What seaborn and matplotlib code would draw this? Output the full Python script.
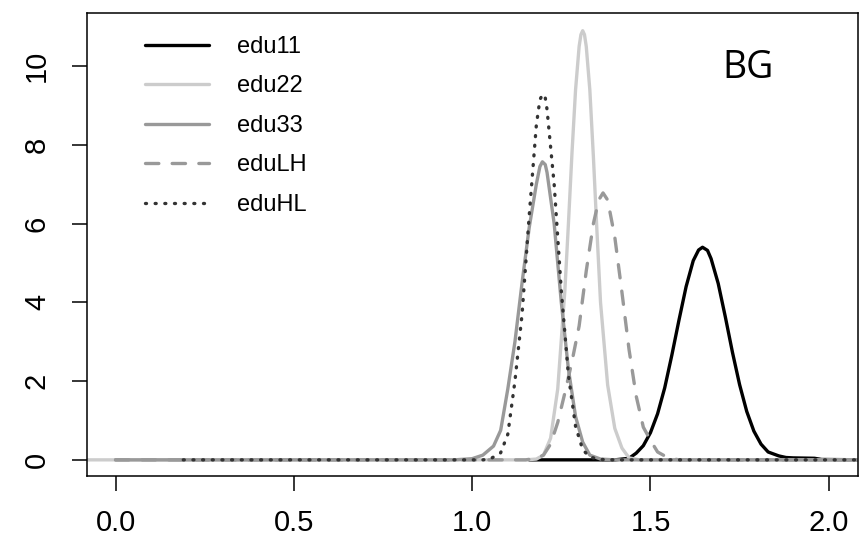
import pandas as pd
import matplotlib
matplotlib.use("Agg")
import matplotlib.pyplot as plt
import seaborn as sns

# === Density curves (x, density) ===
edu11_x = [1.16, 1.40, 1.44, 1.46, 1.48, 1.50, 1.52, 1.54, 1.56, 1.58, 1.60, 1.62, 1.635, 1.646,
           1.66, 1.67, 1.69, 1.71, 1.73, 1.75, 1.77, 1.79, 1.81, 1.83, 1.86, 1.88, 1.90, 1.96, 1.98, 2.12]
edu11_y = [0.0, 0.0, 0.04, 0.17, 0.36, 0.69, 1.17, 1.83, 2.66, 3.55, 4.40, 5.06, 5.33, 5.40,
           5.32, 5.11, 4.48, 3.63, 2.73, 1.91, 1.23, 0.73, 0.40, 0.20, 0.10, 0.06, 0.05, 0.04, 0.01, 0.0]

edu22_x = [-0.10, 1.15, 1.18, 1.20, 1.22, 1.24, 1.26, 1.27, 1.28, 1.29, 1.30, 1.305, 1.31,
           1.315, 1.32, 1.33, 1.34, 1.35, 1.36, 1.38, 1.40, 1.42, 1.44, 1.47, 2.12]
edu22_y = [0.0, 0.0, 0.02, 0.12, 0.55, 1.8, 4.3, 6.0, 7.8, 9.4, 10.5, 10.8, 10.9,
           10.8, 10.5, 9.4, 7.7, 5.8, 4.0, 1.9, 0.8, 0.3, 0.05, 0.0, 0.0]

edu33_x = [0.0, 0.95, 1.00, 1.03, 1.06, 1.08, 1.10, 1.12, 1.14, 1.16, 1.18, 1.19, 1.197,
           1.205, 1.21, 1.23, 1.25, 1.27, 1.29, 1.31, 1.33, 1.36, 1.40, 2.12]
edu33_y = [0.0, 0.0, 0.03, 0.12, 0.35, 0.75, 1.8, 3.0, 4.5, 5.9, 7.0, 7.45, 7.57,
           7.5, 7.3, 6.0, 4.0, 2.3, 1.1, 0.45, 0.12, 0.02, 0.0, 0.0]

eduLH_x = [0.0, 1.15, 1.18, 1.20, 1.22, 1.24, 1.26, 1.28, 1.30, 1.32, 1.34, 1.355, 1.367,
           1.38, 1.40, 1.42, 1.44, 1.46, 1.48, 1.50, 1.52, 1.55, 1.58, 2.12]
eduLH_y = [0.0, 0.0, 0.04, 0.12, 0.4, 0.95, 1.7, 2.5, 3.4, 4.8, 6.0, 6.6, 6.78,
           6.6, 5.66, 4.26, 2.8, 1.62, 0.83, 0.5, 0.2, 0.05, 0.0, 0.0]

eduHL_x = [0.19, 1.03, 1.05, 1.08, 1.10, 1.12, 1.14, 1.16, 1.18, 1.19, 1.198, 1.205, 1.21, 1.23,
           1.25, 1.27, 1.29, 1.31, 1.33, 1.36, 1.40, 2.12]
eduHL_y = [0.0, 0.0, 0.02, 0.18, 0.65, 2.0, 3.7, 6.2, 8.5, 9.15, 9.29, 9.2, 8.9, 7.0,
           4.3, 2.15, 0.85, 0.26, 0.07, 0.01, 0.0, 0.0]

labels = ["edu11", "edu22", "edu33", "eduLH", "eduHL"]
colors = ["#000000", "#CCCCCC", "#999999", "#999999", "#333333"]
styles = ["-", "-", "-", (0, (4.0, 4.0)), (0, (0.3, 2.6))]
xticks = [0.0, 0.5, 1.0, 1.5, 2.0]
yticks = [0, 2, 4, 6, 8, 10]

series = [(edu11_x, edu11_y), (edu22_x, edu22_y), (edu33_x, edu33_y),
          (eduLH_x, eduLH_y), (eduHL_x, eduHL_y)]

sns.set_theme(style="white")
plt.rcParams["font.family"] = ["Liberation Sans", "DejaVu Sans"]
plt.rcParams["text.color"] = "black"

fig = plt.figure(figsize=(8.6, 5.57), dpi=100)
ax = fig.add_axes([87 / 860, 1 - 476 / 557, 771 / 860, 463 / 557])

for (xs, ys), lab, col, ls in zip(series, labels, colors, styles):
    df = pd.DataFrame({"x": xs, "y": ys})
    sns.lineplot(data=df, x="x", y="y", ax=ax, color=col, linestyle=ls, linewidth=2.4,
                 label=lab, sort=False, estimator=None,
                 solid_capstyle="round", dash_capstyle="round",
                 solid_joinstyle="round")

ax.set_xlim(-0.080, 2.082)
ax.set_ylim(-0.41, 11.35)
ax.set_xticks(xticks)
ax.set_xticklabels([f"{t:.1f}" for t in xticks])
ax.set_yticks(yticks)
ax.set_yticklabels([str(t) for t in yticks], rotation=90, va="center")
ax.set_xlabel("")
ax.set_ylabel("")
for s in ax.spines.values():
    s.set_visible(True)
    s.set_color("black")
    s.set_linewidth(1.1)
ax.tick_params(axis="both", direction="out", length=11, width=1.1, colors="black",
               labelcolor="black", labelsize=21, bottom=True, left=True)
ax.tick_params(axis="x", pad=13)
ax.tick_params(axis="y", pad=15)

leg = ax.legend(loc="upper left", bbox_to_anchor=(145 / 860, 1 - 36 / 557),
                bbox_transform=fig.transFigure, frameon=False, fontsize=17,
                handlelength=2.7, handletextpad=1.2, labelspacing=0.74,
                borderpad=0, borderaxespad=0)
for t in leg.get_texts():
    t.set_color("black")

ax.text(0.857, 0.881, "BG", transform=ax.transAxes, fontsize=27,
        family=["Open Sans", "DejaVu Sans"], ha="center", va="center", color="black")

fig.savefig("out.png", dpi=100)
